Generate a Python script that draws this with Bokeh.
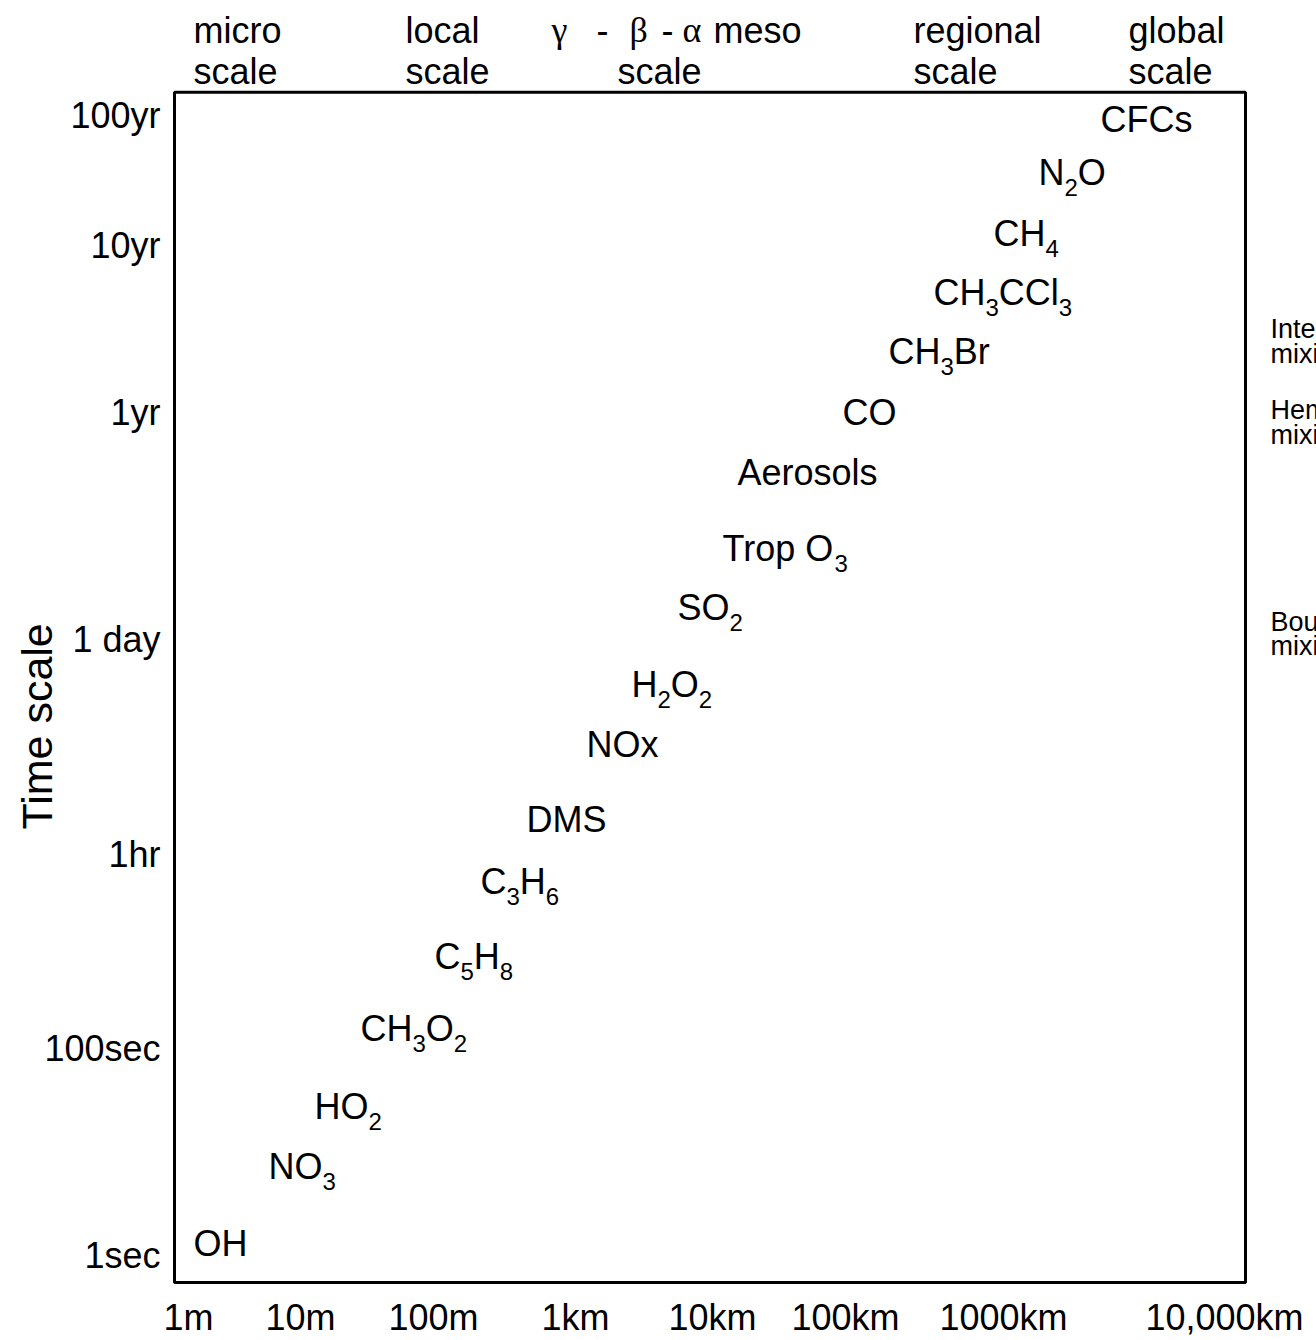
import re
from bokeh.plotting import figure
from bokeh.models import Range1d, FixedTicker, ColumnDataSource, LinearAxis
from bokeh.embed import file_html
from bokeh.resources import INLINE

# ---------------- data (in chart units) ----------------
# chart domain (the boxed region)
X_END = 1071
Y_END = 1192

# x axis: spatial scale
x_tick_pos = [14, 126, 259, 401, 538, 671, 829, 1050]
x_tick_labels = ["1m", "10m", "100m", "1km", "10km", "100km", "1000km", "10,000km"]

# y axis: time scale
y_tick_pos = [27, 234, 429, 644, 871, 1039, 1169]
y_tick_labels = ["1sec", "100sec", "1hr", "1 day", "1yr", "10yr", "100yr"]
y_title = "Time scale"
y_title_pos = 557

# species ("_d" marks a subscript digit); x = left edge, y = text centre
species = ["OH", "NO_3", "HO_2", "CH_3O_2", "C_5H_8", "C_3H_6", "DMS", "NOx",
           "H_2O_2", "SO_2", "Trop O_3", "Aerosols", "CO", "CH_3Br",
           "CH_3CCl_3", "CH_4", "N_2O", "CFCs"]
species_x = [19, 94, 140, 186, 260, 306, 352, 412, 457, 503, 548, 563, 668,
             714, 759, 819, 864, 926]
species_y = [39, 116, 176, 254, 327, 402, 464, 539, 599, 676, 735, 811, 871,
             932, 992, 1051, 1112, 1165]

# spatial-scale category names along the top (two lines each)
scale_line1 = ["micro", "local", "regional", "global"]
scale_x1 = [19, 231, 739, 954]
scale_line2 = ["scale", "scale", "scale", "scale", "scale"]
scale_x2 = [19, 231, 443, 739, 954]
LINE1_Y = 1254
LINE2_Y = 1213
# gamma - beta - alpha meso (Greek letters set in a serif face)
meso_parts = ["γ", "-", "β", "-", "α", "meso"]
meso_x = [377, 422, 455, 487, 508, 539]
meso_serif = [True, False, True, False, True, False]

# mixing regimes on the right (cut by the page edge)
mixing_text = ["Interhemispheric", "mixing", "Hemispheric", "mixing",
               "Boundary layer", "mixing"]
mixing_y = [955, 930, 874, 849, 662, 637]
MIX_X = 1096

FONT = "Liberation Sans"
SERIF = "Liberation Serif"
MAIN = 36
SUB = 24
SUB_DROP = 15
MIX_SIZE = 27
TITLE_SIZE = 43

# Arial / Liberation Sans advance widths (per 1000 em)
W = {"C": 722, "H": 722, "O": 778, "N": 722, "B": 667, "r": 333, "l": 222,
     "F": 611, "s": 500, "D": 722, "M": 833, "S": 667, "x": 500, "T": 611,
     "o": 556, "p": 556, " ": 278, "A": 667, "e": 556}


def tw(s, size):
    return sum(W.get(c, 556) for c in s) * size / 1000.0


cols = dict(x=[], y=[], text=[], xo=[], yo=[], fs=[], font=[])


def add(x, y, t, size, font=FONT, xo=0.0, yo=0.0):
    cols["x"].append(x)
    cols["y"].append(y)
    cols["text"].append(t)
    cols["xo"].append(xo)
    cols["yo"].append(yo)
    cols["fs"].append(f"{size}px")
    cols["font"].append(font)


for name, sx, sy in zip(species, species_x, species_y):
    off = 0.0
    for part in re.split(r"(_\d)", name):
        if not part:
            continue
        if part.startswith("_"):
            t, size, dy = part[1:], SUB, SUB_DROP
        else:
            t, size, dy = part, MAIN, 0
        add(sx, sy, t, size, xo=off, yo=dy)
        off += tw(t, size)

for t, x in zip(scale_line1, scale_x1):
    add(x, LINE1_Y, t, MAIN)
for t, x in zip(scale_line2, scale_x2):
    add(x, LINE2_Y, t, MAIN)
for t, x, serif in zip(meso_parts, meso_x, meso_serif):
    add(x, LINE1_Y, t, MAIN, font=SERIF if serif else FONT)
for t, y in zip(mixing_text, mixing_y):
    add(MIX_X, y, t, MIX_SIZE)

src = ColumnDataSource(cols)

# frame covers the whole page except the axis margins, so that the
# scale names above the box and the mixing notes on the right can be drawn
p = figure(width=1316, height=1340, output_backend="svg", toolbar_location=None,
           x_range=Range1d(-4, 1142), y_range=Range1d(-4, 1284),
           min_border_left=170, min_border_right=0, min_border_top=0,
           min_border_bottom=52)
p.background_fill_color = "white"
p.border_fill_color = "white"
p.outline_line_color = None
p.grid.visible = False

# box around the chart domain
p.quad(left=0, right=X_END, bottom=0, top=Y_END, fill_color=None,
       line_color="black", line_width=3)

xax = p.xaxis[0]
yax = p.yaxis[0]


def style_axis(ax, size=MAIN):
    ax.axis_line_color = None
    ax.major_tick_line_color = None
    ax.minor_tick_line_color = None
    ax.major_tick_out = 0
    ax.major_tick_in = 0
    ax.major_label_text_font = FONT
    ax.major_label_text_font_size = f"{size}px"
    ax.major_label_text_color = "black"


style_axis(xax)
style_axis(yax)

xax.ticker = FixedTicker(ticks=x_tick_pos)
xax.major_label_overrides = {k: v for k, v in zip(x_tick_pos, x_tick_labels)}
xax.major_label_standoff = 10

yax.ticker = FixedTicker(ticks=y_tick_pos)
yax.major_label_overrides = {k: v for k, v in zip(y_tick_pos, y_tick_labels)}
yax.major_label_standoff = 10

# axis title, placed as a rotated label on an outer left axis
tax = LinearAxis(ticker=FixedTicker(ticks=[y_title_pos]),
                 major_label_overrides={y_title_pos: y_title},
                 major_label_orientation="vertical")
style_axis(tax, size=TITLE_SIZE)
tax.major_label_standoff = -20
p.add_layout(tax, "left")

p.text(x="x", y="y", text="text", x_offset="xo", y_offset="yo",
       text_font_size="fs", text_font="font", text_align="left",
       text_baseline="middle", text_color="black", source=src)

open("out.html", "w").write(file_html(p, INLINE))
